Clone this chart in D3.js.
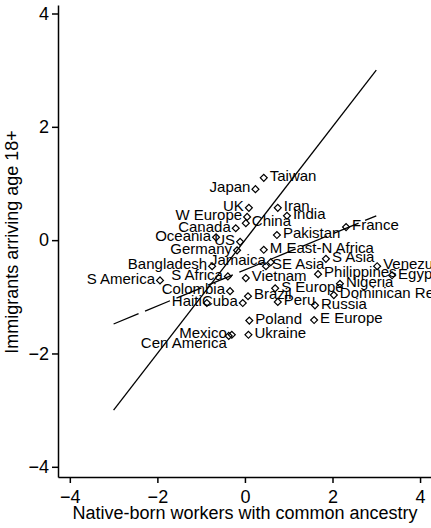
<!DOCTYPE html>
<html>
<head>
<meta charset="utf-8">
<script src="https://cdn.jsdelivr.net/npm/d3@7"></script>
<style>
  body { margin: 0; background: #fff; }
  svg text { font-family: "Liberation Sans", Arial, sans-serif; fill: #000; }
</style>
</head>
<body>
<script>
// countries, x = native-born workers, y = immigrants 18+
var names = ["Taiwan", "Japan", "UK", "Iran", "India", "W Europe", "China", "France",
  "Canada", "Oceania", "US", "Germany", "Pakistan", "M East-N Africa", "Bangladesh",
  "Jamaica", "S Asia", "SE Asia", "Venezuela", "Philippines", "Egypt", "S America",
  "S Africa", "Vietnam", "Nigeria", "S Europe", "Colombia", "Dominican Re", "Brazil",
  "Haiti", "Cuba", "Peru", "Russia", "Poland", "E Europe", "Mexico", "Ukraine", "Cen America"];
var xs = [0.43, 0.24, 0.09, 0.75, 0.96, 0.05, 0.02, 2.31,
  -0.21, -0.66, -0.11, -0.18, 0.73, 0.43, -0.75,
  0.59, 1.85, 0.48, 3.02, 1.67, 3.36, -1.94,
  -0.39, 0.02, 2.17, 0.69, -0.34, 2.03, 0.07,
  -0.87, -0.05, 0.75, 1.60, 0.10, 1.58, -0.30, 0.08, -0.37];
var ys = [1.10, 0.90, 0.57, 0.57, 0.43, 0.41, 0.30, 0.23,
  0.21, 0.05, -0.03, -0.18, 0.09, -0.17, -0.46,
  -0.39, -0.33, -0.46, -0.46, -0.60, -0.62, -0.71,
  -0.64, -0.67, -0.77, -0.85, -0.90, -0.97, -0.99,
  -1.11, -1.11, -1.09, -1.15, -1.42, -1.41, -1.67, -1.67, -1.69];
// label clock position (3 = right, 9 = left, 8 = lower left)
var labelPos = [3, 9, 9, 3, 3, 9, 3, 3,
  9, 9, 9, 9, 3, 3, 9,
  9, 3, 3, 3, 3, 3, 9,
  9, 3, 3, 3, 9, 3, 3,
  9, 9, 3, 3, 3, 3, 9, 3, 8];

// fitted lines
var solidLine = [[-3, -3], [3, 3]];
var dashedLine = [[-3, -1.48], [3, 0.43]];
var xTicks = [-4, -2, 0, 2, 4];
var yTicks = [-4, -2, 0, 2, 4];

var W = 431, H = 528;
var svg = d3.select("body").append("svg")
  .attr("width", W)
  .attr("height", H);

var x = d3.scaleLinear().domain([-4.27, 4.25]).range([58, 431]);
var y = d3.scaleLinear().domain([-4.18, 4.15]).range([477, 5]);

// axes
var xAxis = svg.append("g")
  .attr("transform", "translate(0,477)")
  .call(d3.axisBottom(x).tickValues(xTicks).tickSize(6).tickSizeOuter(0).tickPadding(7));
var yAxis = svg.append("g")
  .attr("transform", "translate(58,0)")
  .call(d3.axisLeft(y).tickValues(yTicks).tickSize(6).tickSizeOuter(0).tickPadding(3));

[xAxis, yAxis].forEach(function (g) {
  g.selectAll("path, line").attr("stroke", "#000").attr("stroke-width", 1.5);
  g.selectAll("text").style("font-size", "18px");
});

svg.append("text")
  .attr("x", 245).attr("y", 519)
  .attr("text-anchor", "middle")
  .style("font-size", "18px")
  .text("Native-born workers with common ancestry");

svg.append("text")
  .attr("transform", "translate(18,242) rotate(-90)")
  .attr("text-anchor", "middle")
  .style("font-size", "18px")
  .text("Immigrants arriving age 18+");

// lines
var line = d3.line().x(function (d) { return x(d[0]); }).y(function (d) { return y(d[1]); });
svg.append("path").datum(solidLine)
  .attr("d", line).attr("fill", "none").attr("stroke", "#000").attr("stroke-width", 1.3);
svg.append("path").datum(dashedLine)
  .attr("d", line).attr("fill", "none").attr("stroke", "#000").attr("stroke-width", 1.3)
  .attr("stroke-dasharray", "27,7");

// points
var pts = names.map(function (n, i) { return {name: n, x: xs[i], y: ys[i], pos: labelPos[i]}; });
var diamond = d3.symbol().type(d3.symbolSquare).size(24);

svg.selectAll(".pt").data(pts).enter().append("path")
  .attr("class", "pt")
  .attr("d", diamond)
  .attr("transform", function (d) { return "translate(" + x(d.x) + "," + y(d.y) + ") rotate(45)"; })
  .attr("fill", "none")
  .attr("stroke", "#000")
  .attr("stroke-width", 1.2);

svg.selectAll(".lab").data(pts).enter().append("text")
  .attr("class", "lab")
  .attr("x", function (d) {
    if (d.pos === 3) return x(d.x) + 6;
    if (d.pos === 8) return x(d.x) - 2;
    return x(d.x) - 5;
  })
  .attr("y", function (d) { return y(d.y) + (d.pos === 8 ? 7 : -2); })
  .attr("dy", "0.35em")
  .attr("text-anchor", function (d) { return d.pos === 3 ? "start" : "end"; })
  .style("font-size", "15px")
  .text(function (d) { return d.name; });
</script>
</body>
</html>
